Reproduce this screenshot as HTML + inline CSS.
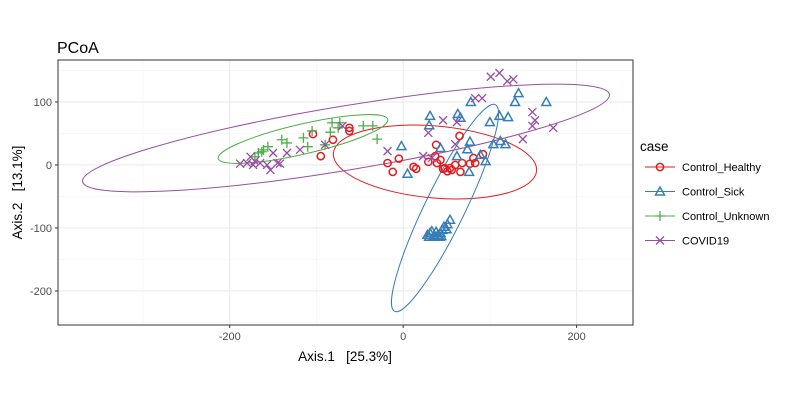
<!DOCTYPE html>
<html><head><meta charset="utf-8"><style>
body{margin:0;background:#fff;font-family:"Liberation Sans",sans-serif}
svg text{font-family:"Liberation Sans",sans-serif;white-space:pre}
</style></head><body>
<svg id="c" width="800" height="400" xmlns="http://www.w3.org/2000/svg"></svg>
<script>
const healthyX=[-62,-62,-104,-81,-95,-18,-5,-12,12,15,65,38,37,29,46,56,66,68,77,81,83,92,48,51,54,60,43,39];
const healthyY=[59,54,49,40,14,3,10,-11,-3,-6,46,32,14,5,-6,-8,-11,3,2,11,3,17,-5,-10,-5,0,8,3];
const sickX=[78,133,129,165,31,63,66,30,100,111,121,77,43,74,104,112,118,62,89,95,76,5,-2,28,31,35,38,40,43,33,45,47,51,54,50,30,37,42,44];
const sickY=[100,114,100,100,78,81,75,63,68,78,76,37,27,25,33,38,33,14,16,6,-11,-14,30,-111,-108,-113,-106,-111,-108,-105,-103,-98,-94,-87,-102,-114,-114,-114,-113];
const unkX=[-82,-75,-84,-46,-35,-30,-105,-115,-140,-134,-110,-156,-161,-167,-171,-90,-73,-163];
const unkY=[67,59,52,62,62,41,54,43,40,35,29,29,24,19,13,32,67,21];
const covX=[-18,-70,-90,-119,-134,-150,-145,-176,-180,-188,-173,-165,-157,-153,-142,-171,101,111,120,127,83,91,46,62,29,60,149,152,149,173,138,23,33];
const covY=[22,62,32,24,19,19,3,13,3,2,0,3,0,-8,2,6,140,146,133,136,106,106,71,68,51,33,84,71,62,59,41,14,11];
const xTicks=[-200,0,200];
const yTicks=[-200,-100,0,100];
const legendLabels=["Control_Healthy","Control_Sick","Control_Unknown","COVID19"];
const colors=["#e41a1c","#377eb8","#4daf4a","#984ea3"];

const L=58,R=633,T=60,B=325;
const xMin=-398,xMax=265,yMin=-254,yMax=166.6;
const sx=v=>L+(v-xMin)/(xMax-xMin)*(R-L);
const sy=v=>B-(v-yMin)/(yMax-yMin)*(B-T);
const svg=document.getElementById('c');
const NS="http://www.w3.org/2000/svg";
function mk(t,a,p){const e=document.createElementNS(NS,t);for(const k in a)e.setAttribute(k,a[k]);(p||svg).appendChild(e);return e;}

mk('rect',{x:L,y:T,width:R-L,height:B-T,fill:'#fff'});
for(const v of [-300,-100,100]){const g=mk('line',{x1:sx(v),x2:sx(v),y1:T,y2:B,stroke:'#f3f3f3','stroke-width':0.6});}
for(const v of [-250,-150,-50,50,150]){const g=mk('line',{x1:L,x2:R,y1:sy(v),y2:sy(v),stroke:'#f3f3f3','stroke-width':0.6});}
for(const v of xTicks){
  const g=mk('line',{x1:sx(v),x2:sx(v),y1:T,y2:B,stroke:'#ebebeb','stroke-width':1.1});
  
  mk('line',{x1:sx(v),x2:sx(v),y1:B,y2:B+3,stroke:'#333'});
  const t=mk('text',{x:sx(v),y:B+15,'text-anchor':'middle','font-size':11,fill:'#4d4d4d'});t.textContent=v;
  
}
for(const v of yTicks){
  const g=mk('line',{x1:L,x2:R,y1:sy(v),y2:sy(v),stroke:'#ebebeb','stroke-width':1.1});
  
  mk('line',{x1:L-3,x2:L,y1:sy(v),y2:sy(v),stroke:'#333'});
  const t=mk('text',{x:L-6,y:sy(v)+4,'text-anchor':'end','font-size':11,fill:'#4d4d4d'});t.textContent=v;
  
}
const ell=[[435,162,102,36,5,0],[445,208,115,20,-64,1],[303,139,87,15,-13,2],[346,138,267,32,-9.4,3]];
for(const e of ell){
  const el=mk('ellipse',{cx:0,cy:0,rx:e[2],ry:e[3],fill:'none',stroke:colors[e[5]],'stroke-width':1,transform:`translate(${e[0]},${e[1]}) rotate(${e[4]})`});
  
}
function sym(k,x,y,p){
  const c=colors[k];
  if(k===0) return mk('circle',{cx:x,cy:y,r:3.6,fill:'none',stroke:c,'stroke-width':1.5},p);
  if(k===1) return mk('polygon',{points:`${x},${y-4.5} ${x+4.5},${y+3.5} ${x-4.5},${y+3.5}`,fill:'none',stroke:c,'stroke-width':1.5},p);
  if(k===2) return mk('path',{d:`M${x-5},${y}H${x+5}M${x},${y-5}V${y+5}`,stroke:c,'stroke-width':1.3},p);
  return mk('path',{d:`M${x-4},${y-4}L${x+4},${y+4}M${x-4},${y+4}L${x+4},${y-4}`,stroke:c,'stroke-width':1.3},p);
}
const series=[[healthyX,healthyY],[sickX,sickY],[unkX,unkY],[covX,covY]];
series.forEach((s,k)=>{
  for(let i=0;i<s[0].length;i++){
    const p=sym(k,sx(s[0][i]),sy(s[1][i]));
    
    
  }
});
const fr=mk('rect',{x:L,y:T,width:R-L,height:B-T,fill:'none',stroke:'#333','stroke-width':1});

let t=mk('text',{x:57,y:53,'font-size':16,fill:'#000'});t.textContent='PCoA';

t=mk('text',{x:345,y:361,'text-anchor':'middle','font-size':13.5,fill:'#000'});t.textContent='Axis.1   [25.3%]';

t=mk('text',{x:0,y:0,'text-anchor':'middle','font-size':13.5,fill:'#000',transform:`translate(22,${(T+B)/2}) rotate(-90)`});t.textContent='Axis.2   [13.1%]';

t=mk('text',{x:640,y:151,'font-size':13.5,fill:'#000'});t.textContent='case';

legendLabels.forEach((lab,k)=>{
  const y=167+k*24.5;
  const g=mk('g',{});
  
  mk('line',{x1:645,x2:675,y1:y,y2:y,stroke:colors[k],'stroke-width':1},g);
  sym(k,660,y,g);
  const tt=mk('text',{x:682,y:y+4,'font-size':11,fill:'#000'},g);tt.textContent=lab;
});
</script>
</body></html>
